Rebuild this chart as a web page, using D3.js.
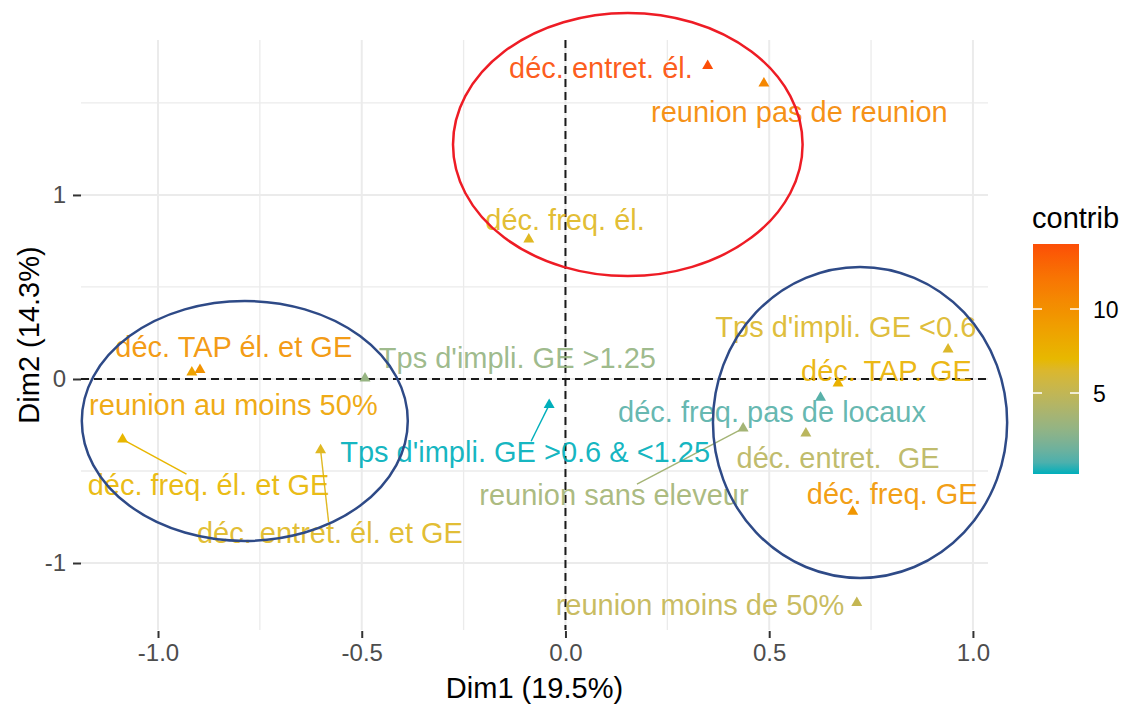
<!DOCTYPE html>
<html><head><meta charset="utf-8">
<script src="https://cdn.jsdelivr.net/npm/d3@7"></script>
<style>
body{margin:0;background:#fff;}
text{font-family:"Liberation Sans",Arial,sans-serif;}
</style>
</head><body>
<svg id="chart" width="1128" height="706"></svg>
<script>
// ---- data ----
const categories = [
  "déc. entret. él.", "reunion pas de reunion", "déc. freq. él.",
  "déc. TAP él. et GE", "reunion au moins 50%", "Tps d'impli. GE >1.25",
  "déc. freq. él. et GE", "déc. entret. él. et GE", "Tps d'impli. GE >0.6 & <1.25",
  "reunion sans eleveur", "déc. freq. pas de locaux", "déc. entret.  GE",
  "déc. freq. GE", "déc. TAP. GE", "Tps d'impli. GE <0.6", "reunion moins de 50%"
];
const dim1 = [0.349, 0.487, -0.090, -0.897, -0.917, -0.492, -1.087, -0.601, -0.040,
              0.436, 0.626, 0.590, 0.705, 0.669, 0.939, 0.715];
const dim2 = [1.701, 1.607, 0.759, 0.050, 0.036, 0.004, -0.328, -0.386, -0.141,
              -0.268, -0.101, -0.295, -0.721, -0.023, 0.161, -1.216];
const contrib = [13.87, 10.6, 6.6, 9.9, 8.6, 3.0, 7.2, 6.6, 0.18,
                 3.6, 1.1, 4.6, 9.6, 7.6, 6.4, 5.1];
// label anchor (repelled text centre) in data units
const labelDim1 = [0.087, 0.574, -0.001, -0.814, -0.815, -0.118, -0.876, -0.578, -0.099,
                   0.119, 0.507, 0.669, 0.802, 0.788, 0.688, 0.330];
const labelDim2 = [1.693, 1.451, 0.864, 0.174, -0.141, 0.114, -0.576, -0.837, -0.397,
                   -0.630, -0.179, -0.429, -0.625, 0.043, 0.283, -1.228];
const xTicks = [-1, -0.5, 0, 0.5, 1];
const xMinor = [-0.75, -0.25, 0.25, 0.75];
const yTicks = [-1, 0, 1];
const yMinor = [-0.5, 0.5, 1.5];
const legendTicks = [5, 10];
const gradientColors = ["#00AFBB", "#E7B800", "#FC4E07"];
const xTitle = "Dim1 (19.5%)";
const yTitle = "Dim2 (14.3%)";
const legendTitle = "contrib";
// hand-drawn annotation ellipses (data units)
const ellCx = [0.153, -0.787, 0.723];
const ellCy = [1.274, -0.228, -0.236];
const ellRx = [0.429, 0.400, 0.361];
const ellRy = [0.715, 0.652, 0.845];
const ellColor = ["#EE1C25", "#2E4A87", "#2E4A87"];

// ---- layout ----
const svg = d3.select("#chart");
const L = 81, R = 988, T = 40, B = 630;
const x = d3.scaleLinear().domain([-1.189, 1.037]).range([L, R]);
const y = d3.scaleLinear().domain([-1.364, 1.842]).range([B, T]);

const cmin = d3.min(contrib), cmax = d3.max(contrib);
const color = d3.scaleLinear()
  .domain([cmin, (cmin + cmax) / 2, cmax])
  .range(gradientColors)
  .interpolate(d3.interpolateLab);

// grid
const grid = svg.append("g");
grid.selectAll(".vmin").data(xMinor).join("line")
  .attr("x1", d => x(d)).attr("x2", d => x(d)).attr("y1", T).attr("y2", B)
  .attr("stroke", "#EBEBEB").attr("stroke-width", 1.3);
grid.selectAll(".hmin").data(yMinor).join("line")
  .attr("y1", d => y(d)).attr("y2", d => y(d)).attr("x1", L).attr("x2", R)
  .attr("stroke", "#EBEBEB").attr("stroke-width", 1.3);
grid.selectAll(".vmaj").data(xTicks).join("line")
  .attr("x1", d => x(d)).attr("x2", d => x(d)).attr("y1", T).attr("y2", B)
  .attr("stroke", "#EBEBEB").attr("stroke-width", 2);
grid.selectAll(".hmaj").data(yTicks).join("line")
  .attr("y1", d => y(d)).attr("y2", d => y(d)).attr("x1", L).attr("x2", R)
  .attr("stroke", "#EBEBEB").attr("stroke-width", 2);

// axes
const xAxis = d3.axisBottom(x).tickValues(xTicks).tickFormat(d => d.toFixed(1))
  .tickSize(7).tickPadding(6);
const gx = svg.append("g").attr("transform", `translate(0,${B + 1})`).call(xAxis);
gx.select(".domain").remove();
gx.selectAll(".tick line").attr("stroke", "#333").attr("stroke-width", 2);
gx.selectAll(".tick text").attr("fill", "#4D4D4D").attr("font-size", 24)
  .attr("font-family", "Liberation Sans, Arial, sans-serif");

const yAxis = d3.axisLeft(y).tickValues(yTicks).tickFormat(d => String(d))
  .tickSize(8).tickPadding(7);
const gy = svg.append("g").attr("transform", `translate(${L},0)`).call(yAxis);
gy.select(".domain").remove();
gy.selectAll(".tick line").attr("stroke", "#333").attr("stroke-width", 2);
gy.selectAll(".tick text").attr("fill", "#4D4D4D").attr("font-size", 24)
  .attr("font-family", "Liberation Sans, Arial, sans-serif");

// reference dashed lines
svg.append("line").attr("x1", L).attr("x2", R).attr("y1", y(0)).attr("y2", y(0))
  .attr("stroke", "#1a1a1a").attr("stroke-width", 2).attr("stroke-dasharray", "8,5");
svg.append("line").attr("x1", x(0)).attr("x2", x(0)).attr("y1", T).attr("y2", B)
  .attr("stroke", "#1a1a1a").attr("stroke-width", 2).attr("stroke-dasharray", "8,5");

// data rows
const rows = categories.map((c, i) => ({
  name: c, d1: dim1[i], d2: dim2[i], c: contrib[i], l1: labelDim1[i], l2: labelDim2[i]
}));

const segG = svg.append("g");
const ptG = svg.append("g");
const txtG = svg.append("g");

const labels = txtG.selectAll("text").data(rows).join("text")
  .attr("x", d => x(d.l1)).attr("y", d => y(d.l2)).attr("dy", "0.35em")
  .attr("text-anchor", "middle").attr("font-size", 29)
  .attr("fill", d => color(d.c)).attr("fill-opacity", 0.92)
  .style("white-space", "pre")
  .text(d => d.name);

// repel segments (point -> label box edge, toward its centre)
labels.each(function(d) {
  const bb = this.getBBox();
  const pad = 2;
  const bx0 = bb.x - pad, bx1 = bb.x + bb.width + pad;
  const by0 = bb.y + 5, by1 = bb.y + bb.height - 3;
  const px = x(d.d1), py = y(d.d2);
  const cx = bx0 + (bx1 - bx0) / 2, cy = by0 + (by1 - by0) / 2;
  const dxb = Math.max(bx0 - px, 0, px - bx1);
  const dyb = Math.max(by0 - py, 0, py - by1);
  if (Math.hypot(dxb, dyb) < 24) return;
  const vx = cx - px, vy = cy - py;
  let t = 1;
  if (vx !== 0) { const tx = ((vx > 0 ? bx0 : bx1) - px) / vx; if (tx > 0 && tx < t) { const yy = py + tx * vy; if (yy >= by0 && yy <= by1) t = tx; } }
  if (vy !== 0) { const ty = ((vy > 0 ? by0 : by1) - py) / vy; if (ty > 0 && ty < t) { const xx = px + ty * vx; if (xx >= bx0 && xx <= bx1) t = ty; } }
  segG.append("line").attr("x1", px).attr("y1", py)
    .attr("x2", px + t * vx).attr("y2", py + t * vy)
    .attr("stroke", color(d.c)).attr("stroke-width", 1.4);
});

ptG.selectAll("path").data(rows).join("path")
  .attr("d", d3.symbol(d3.symbolTriangle, 52))
  .attr("transform", d => `translate(${x(d.d1)},${y(d.d2)})`)
  .attr("fill", d => color(d.c));

// axis titles
svg.append("text").attr("x", (L + R) / 2).attr("y", 698).attr("text-anchor", "middle")
  .attr("font-size", 29).attr("fill", "#000").text(xTitle);
svg.append("text").attr("transform", `translate(39,${(T + B) / 2}) rotate(-90)`)
  .attr("text-anchor", "middle").attr("font-size", 29).attr("fill", "#000").text(yTitle);

// legend
const lgX = 1033, lgW = 46, lgTop = 244, lgBot = 474;
const ly = d3.scaleLinear().domain([cmin, cmax]).range([lgBot, lgTop]);
const defs = svg.append("defs");
const grad = defs.append("linearGradient").attr("id", "cg")
  .attr("x1", 0).attr("y1", 1).attr("x2", 0).attr("y2", 0);
d3.range(0, 1.0001, 0.05).forEach(f => {
  grad.append("stop").attr("offset", f).attr("stop-color", color(cmin + f * (cmax - cmin)));
});
svg.append("rect").attr("x", lgX).attr("y", lgTop).attr("width", lgW).attr("height", lgBot - lgTop)
  .attr("fill", "url(#cg)");
const lt = svg.append("g");
legendTicks.forEach(v => {
  lt.append("line").attr("x1", lgX).attr("x2", lgX + 9).attr("y1", ly(v)).attr("y2", ly(v))
    .attr("stroke", "#fff").attr("stroke-width", 1.5);
  lt.append("line").attr("x1", lgX + lgW - 9).attr("x2", lgX + lgW).attr("y1", ly(v)).attr("y2", ly(v))
    .attr("stroke", "#fff").attr("stroke-width", 1.5);
  lt.append("text").attr("x", 1093).attr("y", ly(v)).attr("dy", "0.38em")
    .attr("font-size", 23).attr("fill", "#000").text(v);
});
svg.append("text").attr("x", 1032).attr("y", 228).attr("font-size", 29).attr("fill", "#000").text(legendTitle);

// annotation ellipses
svg.append("g").selectAll("ellipse").data(ellCx).join("ellipse")
  .attr("cx", (d, i) => x(d)).attr("cy", (d, i) => y(ellCy[i]))
  .attr("rx", (d, i) => x(ellRx[i]) - x(0)).attr("ry", (d, i) => y(0) - y(ellRy[i]))
  .attr("fill", "none").attr("stroke", (d, i) => ellColor[i]).attr("stroke-width", 2.5);
</script>
</body></html>
